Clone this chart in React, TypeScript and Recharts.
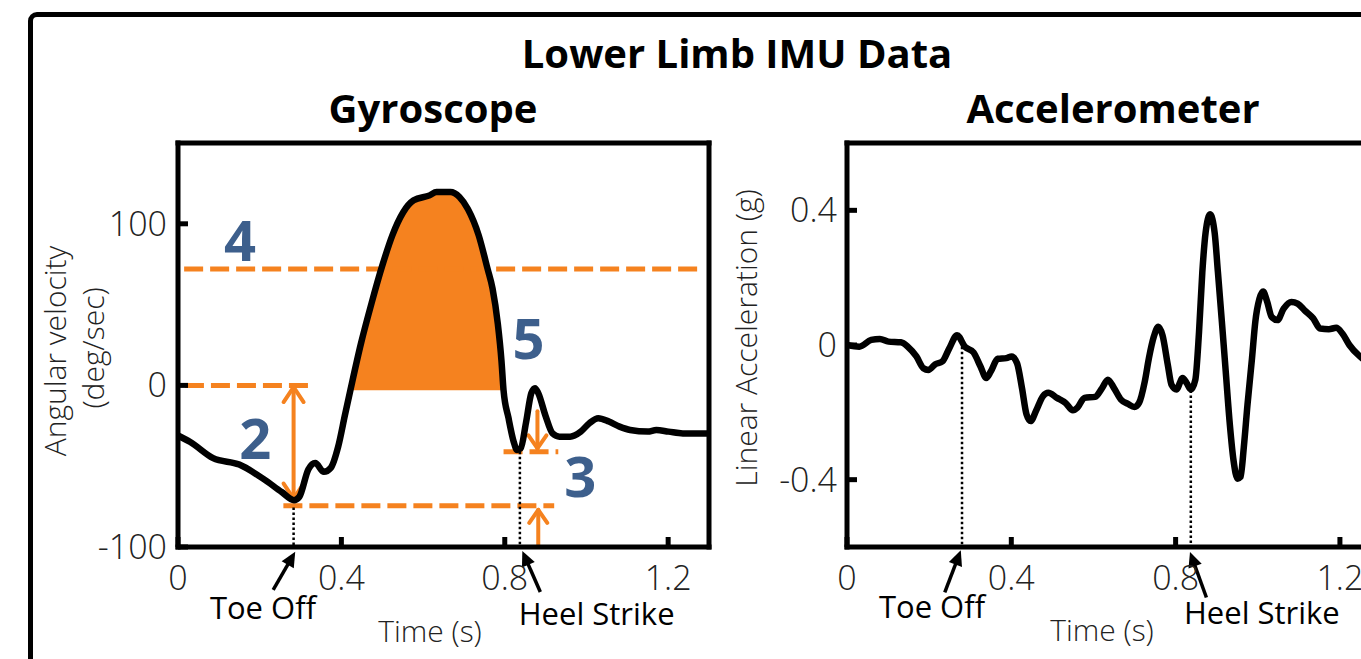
import React from 'react';
import { ComposedChart, Line, Area, XAxis, YAxis, ReferenceLine, ReferenceDot } from 'recharts';

// ---------- data ----------
const gyroTime = [0, 0.03, 0.086, 0.15, 0.21, 0.254, 0.284, 0.297, 0.319, 0.336, 0.357, 0.374, 0.392, 0.409, 0.422, 0.448, 0.474, 0.5, 0.525, 0.551, 0.577, 0.616, 0.633, 0.667, 0.689, 0.71, 0.736, 0.758, 0.77, 0.783, 0.792, 0.797, 0.809, 0.822, 0.83, 0.839, 0.852, 0.865, 0.874, 0.882, 0.9, 0.917, 0.934, 0.96, 0.986, 1.007, 1.029, 1.055, 1.081, 1.107, 1.15, 1.171, 1.201, 1.236, 1.261, 1.3];
const gyroVelocity = [-31, -35, -45, -49, -58, -66, -71, -69, -52, -48, -53.5, -51, -38, -18, -3, 26, 51, 74, 93, 107, 114.5, 117.6, 119.7, 119.7, 116.6, 109, 93, 72, 60, 38, 15, -3, -20, -35, -40, -39, -23, -4.8, -1.7, -4.8, -19, -29.7, -31.7, -31.7, -28.6, -23.4, -20.3, -22.4, -25.5, -27.6, -28.6, -27.6, -28.6, -29.7, -29.7, -29.7];

const accTime = [0, 0.03, 0.059, 0.08, 0.101, 0.131, 0.148, 0.169, 0.186, 0.198, 0.215, 0.232, 0.249, 0.268, 0.287, 0.308, 0.325, 0.339, 0.35, 0.367, 0.388, 0.401, 0.414, 0.426, 0.437, 0.447, 0.46, 0.477, 0.49, 0.511, 0.532, 0.55, 0.561, 0.578, 0.604, 0.621, 0.635, 0.65, 0.667, 0.684, 0.7, 0.711, 0.725, 0.735, 0.747, 0.758, 0.768, 0.781, 0.79, 0.802, 0.817, 0.827, 0.837, 0.848, 0.857, 0.865, 0.873, 0.884, 0.895, 0.903, 0.912, 0.922, 0.932, 0.941, 0.951, 0.958, 0.966, 0.975, 0.986, 0.994, 1.004, 1.013, 1.023, 1.034, 1.048, 1.063, 1.082, 1.097, 1.114, 1.135, 1.152, 1.173, 1.191, 1.206, 1.223, 1.249, 1.27, 1.3];
const accValue = [0, -0.005, 0.015, 0.018, 0.01, 0.008, -0.005, -0.034, -0.069, -0.074, -0.057, -0.049, -0.01, 0.029, -0.005, -0.022, -0.064, -0.098, -0.079, -0.041, -0.039, -0.034, -0.054, -0.128, -0.206, -0.226, -0.196, -0.152, -0.142, -0.157, -0.172, -0.194, -0.186, -0.157, -0.154, -0.128, -0.103, -0.128, -0.162, -0.175, -0.184, -0.172, -0.108, -0.039, 0.025, 0.054, 0.029, -0.059, -0.118, -0.132, -0.098, -0.113, -0.132, -0.103, 0.039, 0.216, 0.334, 0.388, 0.334, 0.216, 0.079, -0.079, -0.236, -0.343, -0.397, -0.392, -0.304, -0.177, -0.039, 0.069, 0.137, 0.159, 0.128, 0.083, 0.074, 0.108, 0.128, 0.123, 0.103, 0.079, 0.049, 0.047, 0.051, 0.034, 0, -0.034, -0.05, -0.04];

const timeTicks = [0, 0.4, 0.8, 1.2];
const gyroTicks = [-100, 0, 100];
const accTicks = [-0.4, 0, 0.4];
const timeDomain = [0, 1.3];
const gyroDomain = [-100, 150];
const accDomain = [-0.6, 0.6];

// gait events / features
const swingWindow = [0.422, 0.797];
const swingBase = -3;
const toeOffGyro = 0.283;
const heelStrikeGyro = 0.837;
const toeOffAcc = 0.28;
const heelStrikeAcc = 0.837;
const thresholdLevel = 72;
const toeOffMin = -74.5;
const heelStrikeMin = -41;

const mainTitle = 'Lower Limb IMU Data';
const gyroTitle = 'Gyroscope';
const accTitle = 'Accelerometer';
const gyroYLabel = ['Angular velocity', '(deg/sec)'];
const accYLabel = 'Linear Acceleration (g)';
const xLabel = 'Time (s)';
const toeOffLabel = 'Toe Off';
const heelStrikeLabel = 'Heel Strike';

// ---------- styles ----------
const ORANGE = '#F5821F';
const BLUE = '#3D5F8C';
const FONT = "'Open Sans', 'Noto Sans', 'DejaVu Sans', sans-serif";

const gyroData = gyroTime.map((t, i) => ({
  t,
  v: gyroVelocity[i],
  swing: t >= swingWindow[0] && t <= swingWindow[1] ? gyroVelocity[i] : null,
}));
const accData = accTime.map((t, i) => ({ t, a: accValue[i] }));

const axisLineStyle = { stroke: '#000', strokeWidth: 5, strokeLinecap: 'square' as const };
const tickLineStyle = { stroke: '#000', strokeWidth: 5 };
const tickText = { fill: '#222', fontSize: 34, fontFamily: FONT, fontWeight: 300 };

function arrowShape(color: string, sw: number, head: number, halfW: number, both: boolean, filled: boolean) {
  return (p: any) => {
    const { x1, y1, x2, y2 } = p;
    const dx = x2 - x1;
    const dy = y2 - y1;
    const len = Math.hypot(dx, dy) || 1;
    const ux = dx / len;
    const uy = dy / len;
    const nx = -uy;
    const ny = ux;
    const headPts = (tx: number, ty: number, sx: number, sy: number) => {
      const bx = tx - sx * head;
      const by = ty - sy * head;
      return `${bx + nx * halfW},${by + ny * halfW} ${tx},${ty} ${bx - nx * halfW},${by - ny * halfW}`;
    };
    const sx1 = both && filled ? x1 + ux * head : x1;
    const sy1 = both && filled ? y1 + uy * head : y1;
    const sx2 = filled ? x2 - ux * head * 0.8 : x2;
    const sy2 = filled ? y2 - uy * head * 0.8 : y2;
    return (
      <g>
        <line x1={sx1} y1={sy1} x2={sx2} y2={sy2} stroke={color} strokeWidth={sw} strokeLinecap={filled ? 'butt' : 'round'} />
        {filled ? (
          <polygon points={headPts(x2, y2, ux, uy)} fill={color} />
        ) : (
          <polyline points={headPts(x2, y2, ux, uy)} fill="none" stroke={color} strokeWidth={sw} strokeLinecap="round" strokeLinejoin="round" />
        )}
        {both &&
          (filled ? (
            <polygon points={headPts(x1, y1, -ux, -uy)} fill={color} />
          ) : (
            <polyline points={headPts(x1, y1, -ux, -uy)} fill="none" stroke={color} strokeWidth={sw} strokeLinecap="round" strokeLinejoin="round" />
          ))}
      </g>
    );
  };
}

function textShape(text: string, size: number, weight: number, color: string) {
  return (p: any) => (
    <text x={p.cx} y={p.cy} textAnchor="middle" fontSize={size} fontWeight={weight} fill={color} fontFamily={FONT}>
      {text}
    </text>
  );
}

const orangeDouble = arrowShape(ORANGE, 4, 15, 10, true, false);
const orangeSingle = arrowShape(ORANGE, 4, 13, 9, false, false);
const blackArrow = arrowShape('#000', 3.5, 15, 7, false, true);

function GyroChart() {
  return (
    <ComposedChart width={760} height={659} data={gyroData} margin={{ top: 142, right: 50, bottom: 72, left: 118 }}>
      <XAxis dataKey="t" type="number" domain={timeDomain} ticks={timeTicks} allowDataOverflow interval={0} height={40}
        tickSize={-10} tickMargin={29} axisLine={axisLineStyle} tickLine={tickLineStyle} tick={tickText} />
      <XAxis xAxisId="top" orientation="top" dataKey="t" type="number" domain={timeDomain} ticks={timeTicks} allowDataOverflow
        interval={0} height={1} tickSize={-10} tick={false} axisLine={axisLineStyle} tickLine={tickLineStyle} />
      <YAxis type="number" domain={gyroDomain} ticks={gyroTicks} allowDataOverflow interval={0} width={60}
        tickSize={-10} tickMargin={21} axisLine={axisLineStyle} tickLine={tickLineStyle} tick={tickText} />
      <YAxis yAxisId="right" orientation="right" type="number" domain={gyroDomain} ticks={gyroTicks} allowDataOverflow
        interval={0} width={1} tickSize={-10} tick={false} axisLine={axisLineStyle} tickLine={tickLineStyle} />

      <ReferenceLine segment={[{ x: 0.015, y: thresholdLevel }, { x: 1.287, y: thresholdLevel }]} stroke={ORANGE} strokeWidth={5} strokeDasharray="19 7" ifOverflow="visible" />
      <ReferenceLine segment={[{ x: 0.017, y: 0 }, { x: 0.319, y: 0 }]} stroke={ORANGE} strokeWidth={5} strokeDasharray="19 7" ifOverflow="visible" />
      <ReferenceLine segment={[{ x: 0.258, y: toeOffMin }, { x: 0.921, y: toeOffMin }]} stroke={ORANGE} strokeWidth={5} strokeDasharray="19 7" ifOverflow="visible" />
      <ReferenceLine segment={[{ x: 0.797, y: heelStrikeMin }, { x: 0.931, y: heelStrikeMin }]} stroke={ORANGE} strokeWidth={5} strokeDasharray="19 7" ifOverflow="visible" />

      <Area dataKey="swing" type="monotone" baseValue={swingBase} fill={ORANGE} fillOpacity={1} stroke="none" isAnimationActive={false} />

      <ReferenceLine segment={[{ x: toeOffGyro, y: -1 }, { x: toeOffGyro, y: -70 }]} shape={orangeDouble} ifOverflow="visible" />
      <ReferenceLine segment={[{ x: 0.88, y: -16 }, { x: 0.88, y: -39 }]} shape={orangeSingle} ifOverflow="visible" />
      <ReferenceLine segment={[{ x: 0.882, y: -100 }, { x: 0.882, y: -77 }]} shape={orangeSingle} ifOverflow="visible" />

      <ReferenceLine segment={[{ x: toeOffGyro, y: toeOffMin - 1 }, { x: toeOffGyro, y: -100 }]} stroke="#000" strokeWidth={2.5} strokeDasharray="2.5 2.5" ifOverflow="visible" />
      <ReferenceLine segment={[{ x: heelStrikeGyro, y: heelStrikeMin }, { x: heelStrikeGyro, y: -100 }]} stroke="#000" strokeWidth={2.5} strokeDasharray="2.5 2.5" ifOverflow="visible" />

      <Line dataKey="v" type="monotone" stroke="#000" strokeWidth={6.5} dot={false} isAnimationActive={false} />

      <ReferenceLine segment={[{ x: 0.233, y: -126.6 }, { x: 0.287, y: -103 }]} shape={blackArrow} ifOverflow="visible" />
      <ReferenceLine segment={[{ x: 0.887, y: -127.8 }, { x: 0.843, y: -102.5 }]} shape={blackArrow} ifOverflow="visible" />

      <ReferenceDot x={0.208} y={-144.6} r={0} ifOverflow="visible" shape={textShape(toeOffLabel, 31, 400, '#000')} />
      <ReferenceDot x={1.025} y={-148.3} r={0} ifOverflow="visible" shape={textShape(heelStrikeLabel, 31, 400, '#000')} />

      <ReferenceDot x={0.152} y={77} r={0} ifOverflow="visible" shape={textShape('4', 56, 700, BLUE)} />
      <ReferenceDot x={0.189} y={-45.5} r={0} ifOverflow="visible" shape={textShape('2', 56, 700, BLUE)} />
      <ReferenceDot x={0.858} y={16.4} r={0} ifOverflow="visible" shape={textShape('5', 56, 700, BLUE)} />
      <ReferenceDot x={0.985} y={-69} r={0} ifOverflow="visible" shape={textShape('3', 56, 700, BLUE)} />
    </ComposedChart>
  );
}

function AccChart() {
  return (
    <ComposedChart width={760} height={659} data={accData} margin={{ top: 142, right: 78, bottom: 72, left: 87 }}>
      <XAxis dataKey="t" type="number" domain={timeDomain} ticks={timeTicks} allowDataOverflow interval={0} height={40}
        tickSize={-10} tickMargin={29} axisLine={axisLineStyle} tickLine={tickLineStyle} tick={tickText} />
      <XAxis xAxisId="top" orientation="top" dataKey="t" type="number" domain={timeDomain} ticks={timeTicks} allowDataOverflow
        interval={0} height={1} tickSize={-10} tick={false} axisLine={axisLineStyle} tickLine={tickLineStyle} />
      <YAxis type="number" domain={accDomain} ticks={accTicks} allowDataOverflow interval={0} width={60}
        tickSize={-10} tickMargin={20} axisLine={axisLineStyle} tickLine={tickLineStyle} tick={tickText} />
      <YAxis yAxisId="right" orientation="right" type="number" domain={accDomain} ticks={accTicks} allowDataOverflow
        interval={0} width={1} tickSize={-10} tick={false} axisLine={axisLineStyle} tickLine={tickLineStyle} />

      <ReferenceLine segment={[{ x: toeOffAcc, y: -0.005 }, { x: toeOffAcc, y: -0.6 }]} stroke="#000" strokeWidth={2.5} strokeDasharray="2.5 2.5" ifOverflow="visible" />
      <ReferenceLine segment={[{ x: heelStrikeAcc, y: -0.135 }, { x: heelStrikeAcc, y: -0.6 }]} stroke="#000" strokeWidth={2.5} strokeDasharray="2.5 2.5" ifOverflow="visible" />

      <Line dataKey="a" type="monotone" stroke="#000" strokeWidth={6.5} dot={false} isAnimationActive={false} />

      <ReferenceLine segment={[{ x: 0.238, y: -0.735 }, { x: 0.277, y: -0.61 }]} shape={blackArrow} ifOverflow="visible" />
      <ReferenceLine segment={[{ x: 0.875, y: -0.75 }, { x: 0.835, y: -0.615 }]} shape={blackArrow} ifOverflow="visible" />

      <ReferenceDot x={0.207} y={-0.811} r={0} ifOverflow="visible" shape={textShape(toeOffLabel, 31, 400, '#000')} />
      <ReferenceDot x={1.01} y={-0.829} r={0} ifOverflow="visible" shape={textShape(heelStrikeLabel, 31, 400, '#000')} />
    </ComposedChart>
  );
}

export default function App() {
  return (
    <div style={{ position: 'absolute', left: 0, top: 0, width: 1361, height: 659, overflow: 'hidden', background: '#fff' }}>
      <div style={{ position: 'absolute', left: 28, top: 12, width: 1420, height: 720, border: '5px solid #000', borderRadius: 9, boxSizing: 'border-box' }} />
      <div style={{ position: 'absolute', left: 0, top: 0 }}>
        <GyroChart />
      </div>
      <div style={{ position: 'absolute', left: 700, top: 0 }}>
        <AccChart />
      </div>
      <svg width={1361} height={659} style={{ position: 'absolute', left: 0, top: 0, pointerEvents: 'none' }}>
        <text x={737} y={68} textAnchor="middle" fontFamily={FONT} fontWeight={700} fontSize={40} fill="#000">{mainTitle}</text>
        <text x={433} y={123} textAnchor="middle" fontFamily={FONT} fontWeight={700} fontSize={40} fill="#000">{gyroTitle}</text>
        <text x={1113} y={123} textAnchor="middle" fontFamily={FONT} fontWeight={700} fontSize={40} fill="#000">{accTitle}</text>
        <text transform="translate(66,351) rotate(-90)" textAnchor="middle" fontFamily={FONT} fontWeight={300} fontSize={30} fill="#222">{gyroYLabel[0]}</text>
        <text transform="translate(104,348) rotate(-90)" textAnchor="middle" fontFamily={FONT} fontWeight={300} fontSize={30} fill="#222">{gyroYLabel[1]}</text>
        <text transform="translate(757,338) rotate(-90)" textAnchor="middle" fontFamily={FONT} fontWeight={300} fontSize={30} fill="#222">{accYLabel}</text>
        <text x={430} y={642} textAnchor="middle" fontFamily={FONT} fontWeight={300} fontSize={30} fill="#222">{xLabel}</text>
        <text x={1102} y={641} textAnchor="middle" fontFamily={FONT} fontWeight={300} fontSize={30} fill="#222">{xLabel}</text>
      </svg>
    </div>
  );
}
